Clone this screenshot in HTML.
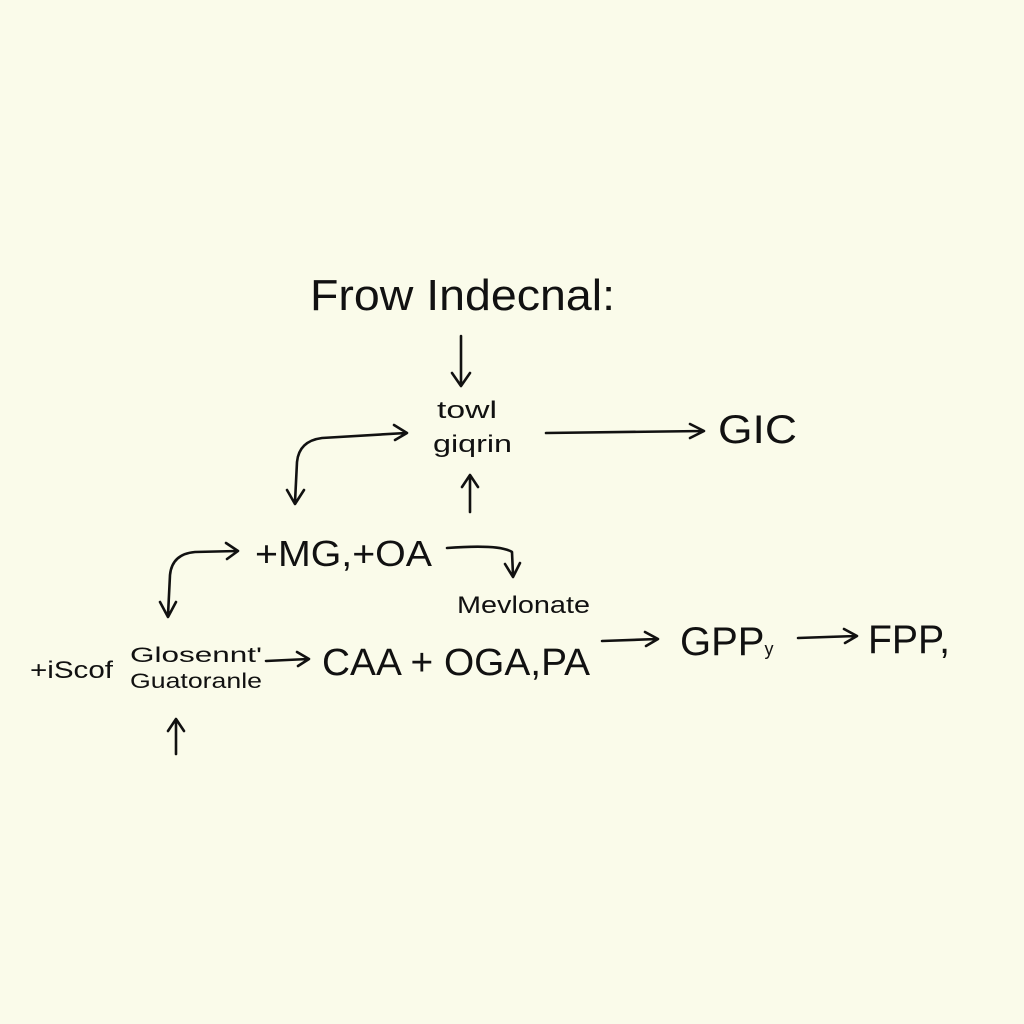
<!DOCTYPE html>
<html><head><meta charset="utf-8"><style>
html,body{margin:0;padding:0;background:#fafbea;}
svg{display:block}
text{font-family:"Liberation Sans",sans-serif;fill:#111;}
</style></head><body>
<svg width="1024" height="1024" viewBox="0 0 1024 1024">
<rect width="1024" height="1024" fill="#fafbea"/>
<g fill="none" stroke="#111" stroke-width="2.6" stroke-linecap="round" stroke-linejoin="round">
<path d="M461 336 L461 385 M452 373 L461 386 L470 373"/>
<path d="M546 433 L703 431 M690 424 L704 431 L690 438"/>
<path d="M470 512 L470 476 M462 487 L470 475 L478 487"/>
<path d="M295 502 L297 462 Q299 441 322 438 L406 433 M394 425 L407 433 L395 440 M287 490 L295 504 L304 490"/>
<path d="M447 548 Q500 544 512 552 L513 575 M505 564 L513 577 L520 563"/>
<path d="M168 615 L170 575 Q172 554 195 552 L237 551 M226 543 L238 551 L227 559 M160 602 L168 617 L176 602"/>
<path d="M266 661 L308 659 M297 652 L309 659 L298 666"/>
<path d="M602 641 L657 639 M645 632 L658 639 L646 646"/>
<path d="M798 638 L856 636 M844 629 L857 636 L845 643"/>
<path d="M176 754 L176 720 M168 731 L176 719 L184 731"/>
</g>
<text x="310" y="310" font-size="44" textLength="305" lengthAdjust="spacingAndGlyphs">Frow Indecnal:</text>
<text x="437" y="418" font-size="24" textLength="60" lengthAdjust="spacingAndGlyphs">towl</text>
<text x="433" y="452" font-size="24" textLength="79" lengthAdjust="spacingAndGlyphs">giqrin</text>
<text x="718" y="443" font-size="40" textLength="79" lengthAdjust="spacingAndGlyphs">GIC</text>
<text x="255" y="566" font-size="36" textLength="177" lengthAdjust="spacingAndGlyphs">+MG,+OA</text>
<text x="457" y="613" font-size="24" textLength="133" lengthAdjust="spacingAndGlyphs">Mevlonate</text>
<text x="30" y="678" font-size="24" textLength="83" lengthAdjust="spacingAndGlyphs">+iScof</text>
<text x="130" y="662" font-size="21" textLength="132" lengthAdjust="spacingAndGlyphs">Glosennt'</text>
<text x="130" y="688" font-size="21" textLength="132" lengthAdjust="spacingAndGlyphs">Guatoranle</text>
<text x="322" y="675" font-size="38" textLength="268" lengthAdjust="spacingAndGlyphs">CAA + OGA,PA</text>
<text x="680" y="655" font-size="40">GPP<tspan font-size="18">y</tspan></text>
<text x="868" y="653" font-size="40" textLength="82" lengthAdjust="spacingAndGlyphs">FPP,</text>
</svg>
</body></html>
